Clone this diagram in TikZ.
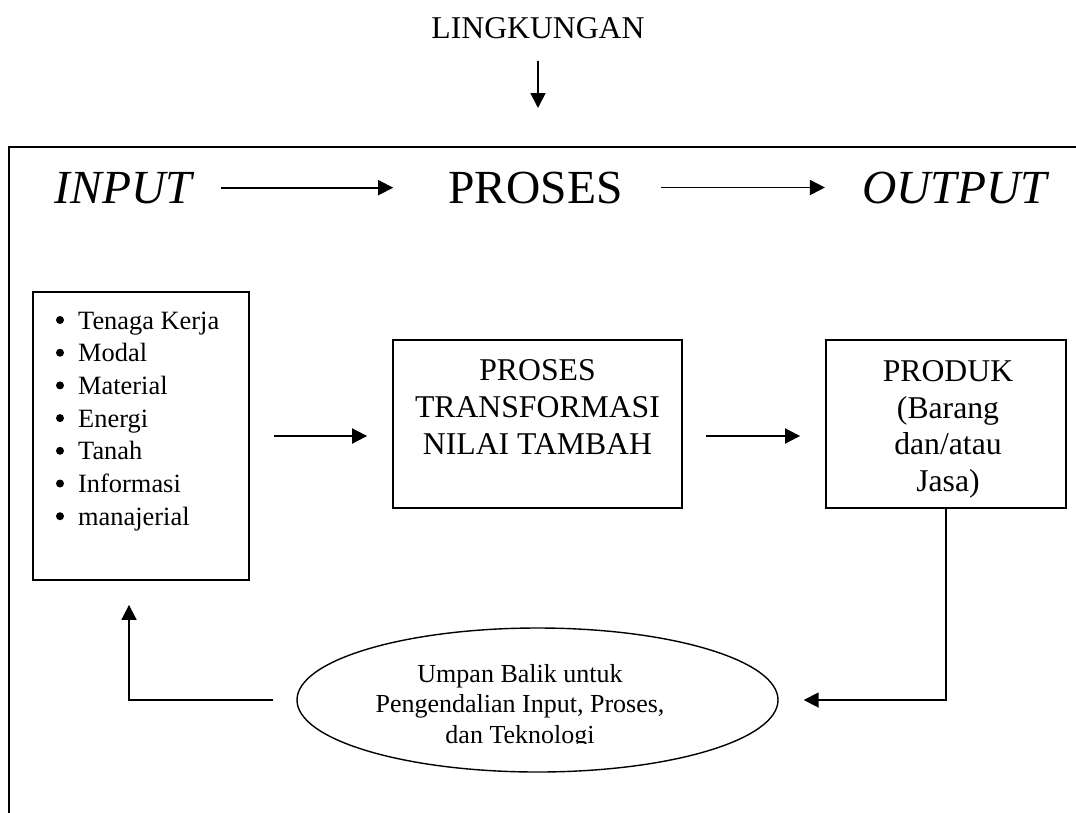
\documentclass[tikz,border=0pt]{standalone}
\usepackage{fontspec}
\setmainfont{Liberation Serif}
\usetikzlibrary{arrows.meta,shapes.geometric,calc}

\begin{document}
\begin{tikzpicture}[x=1pt,y=-1pt,
  lw/.style={line width=1.8pt},
  box/.style={draw, lw, rectangle, inner sep=0pt},
  arr/.style={lw, -{Triangle[length=15pt,width=15pt]}},
  bigit/.style={font=\fontsize{47.5}{55}\selectfont\itshape, inner sep=0pt, anchor=base},
  bigup/.style={font=\fontsize{47.5}{55}\selectfont, inner sep=0pt, anchor=base},
  body/.style={font=\fontsize{31.7}{36.5}\selectfont, inner sep=0pt, anchor=base},
  small/.style={font=\fontsize{26}{30}\selectfont, inner sep=0pt, anchor=base},
  listitem/.style={font=\fontsize{26.4}{30}\selectfont, inner sep=0pt, anchor=base west},
]
\useasboundingbox (0,0) rectangle (1076,812);
\clip (0,0) rectangle (1076,812);

% environment label and its arrow into the system
\node[body] (env) at (538,38) {LINGKUNGAN};
\coordinate (env-tip) at (538,108);
\draw[arr, shorten <=22pt] (env.south) -- (env-tip);

% system boundary
\draw[lw] (9,830) -- (9,147) -- (1090,147);

% header row
\node[bigit] (in)  at (123.5,203) {INPUT};
\node[bigup] (hd)  at (535.5,203) {PROSES};
\node[bigit] (out) at (954.5,203) {OUTPUT};
\draw[arr, shorten <=29pt, shorten >=55pt] (in.east) -- (in.east -| hd.west);
\draw[arr, shorten <=38pt, shorten >=37pt] (hd.east) -- (hd.east -| out.west);

% input resources
\node[box, minimum width=216pt, minimum height=288pt] (list) at (141,436) {};
\foreach \t [count=\i] in {Tenaga Kerja, Modal, Material, Energi, Tanah, Informasi, manajerial}{
  \node[listitem] (item-\i) at (78,{329+32.7*(\i-1)}) {\t};
  \fill (60,{320+32.7*(\i-1)}) circle (4pt);
}

% transformation process
\node[box, minimum width=289pt, minimum height=168pt] (proc) at (537.5,424) {};
\node[body] (proc-1) at (537.5,380) {PROSES};
\node[body] (proc-2) at (537.5,417) {TRANSFORMASI};
\node[body] (proc-3) at (537.5,454) {NILAI TAMBAH};

% product
\node[box, minimum width=240pt, minimum height=168pt] (prod) at (946,424) {};
\node[body] (prod-1) at (948,381) {PRODUK};
\node[body] (prod-2) at (948,418) {(Barang};
\node[body] (prod-3) at (948,454) {dan/atau};
\node[body] (prod-4) at (948,491) {Jasa)};

\draw[arr, shorten <=24pt, shorten >=25pt] (list.east) -- (list.east -| proc.west);
\draw[arr, shorten <=23pt, shorten >=25pt] ($(proc.east)+(0,12)$) -- ($(prod.west)+(0,12)$);

% feedback loop
\node[draw, line width=1.4pt, ellipse, minimum width=481pt, minimum height=144pt, inner sep=0pt] (fb) at (537.5,700) {};
\begin{scope}
  \clip (370,640) rectangle (680,743);
  \node[small] (fb-1) at (520,682) {Umpan Balik untuk};
  \node[small] (fb-2) at (520,712.5) {Pengendalian Input, Proses,};
  \node[small] (fb-3) at (520,743) {dan Teknologi};
\end{scope}

\draw[arr, shorten >=25pt] (prod.south) |- (fb.east);
\coordinate (fb-corner) at (129,700);
\draw[arr, shorten <=23pt, shorten >=24pt] (fb.west) -- (fb-corner) -- (fb-corner |- list.south);
\end{tikzpicture}
\end{document}
